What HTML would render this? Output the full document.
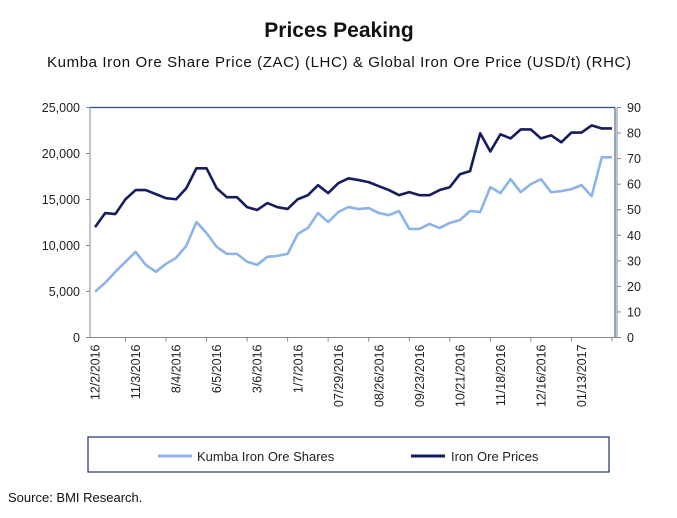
<!DOCTYPE html>
<html><head><meta charset="utf-8"><style>
body{margin:0;background:#fff;}
svg text{font-family:"Liberation Sans",Arial,sans-serif;}
</style></head><body>
<svg width="677" height="513" viewBox="0 0 677 513" id="chart">
<text x="339" y="37" text-anchor="middle" font-size="21" font-weight="bold" fill="#111">Prices Peaking</text>
<text x="339" y="67" text-anchor="middle" font-size="15" fill="#111" textLength="584" lengthAdjust="spacing">Kumba Iron Ore Share Price (ZAC) (LHC) &amp; Global Iron Ore Price (USD/t) (RHC)</text>
<g id="plot"></g>
<rect x="88" y="437" width="521" height="35" fill="none" stroke="#1f2d6b" stroke-width="1.2"/>
<line x1="158" y1="456" x2="192" y2="456" stroke="#8db4e8" stroke-width="3"/>
<text x="197" y="461" font-size="13" fill="#222">Kumba Iron Ore Shares</text>
<line x1="411" y1="456" x2="445" y2="456" stroke="#151d5e" stroke-width="3"/>
<text x="451" y="461" font-size="13" fill="#222">Iron Ore Prices</text>
<text x="8" y="502" font-size="13" fill="#111">Source: BMI Research.</text>
</svg>
<script>
const shares=[4980,5950,7140,8230,9310,7900,7140,8010,8660,9960,12550,11360,9850,9090,9090,8230,7900,8770,8870,9090,11260,11900,13530,12550,13640,14180,13960,14070,13530,13310,13740,11800,11800,12340,11900,12450,12770,13740,13640,16340,15690,17210,15800,16670,17210,15800,15910,16130,16560,15370,19590,19590];
const ironOre=[43.2,48.7,48.3,54.1,57.7,57.7,56.1,54.5,54.1,58.4,66.2,66.2,58.4,54.9,54.9,51.0,49.9,52.6,51.0,50.3,54.1,55.7,59.6,56.5,60.4,62.3,61.6,60.8,59.2,57.7,55.7,56.9,55.7,55.7,57.7,58.8,63.9,65.1,79.9,72.8,79.5,77.9,81.4,81.4,77.9,79.1,76.4,80.2,80.2,83.0,81.8,81.8];
const xLabels=["12/2/2016","11/3/2016","8/4/2016","6/5/2016","3/6/2016","1/7/2016","07/29/2016","08/26/2016","09/23/2016","10/21/2016","11/18/2016","12/16/2016","01/13/2017"];
const leftTicks=[0,5000,10000,15000,20000,25000];
const rightTicks=[0,10,20,30,40,50,60,70,80,90];
const NS="http://www.w3.org/2000/svg";
const L=90,R=617,T=107.5,B=337.5,n=shares.length,bw=(R-L)/n;
const xs=i=>L+bw*(i+0.5);
const yl=v=>B-(v/25000)*(B-T);
const yr=v=>B-(v/90)*(B-T);
const g=document.getElementById('plot');
function mk(t,a){const e=document.createElementNS(NS,t);for(const k in a)e.setAttribute(k,a[k]);g.appendChild(e);return e;}
let e=mk('line',{x1:L,y1:T,x2:R-2,y2:T,stroke:'#2a4a8a','stroke-width':1.2});


e=mk('line',{x1:R-2,y1:T,x2:R-2,y2:B,stroke:'#2a4a8a','stroke-width':1});


e=mk('line',{x1:L,y1:T,x2:L,y2:B,stroke:'#888','stroke-width':1});


e=mk('line',{x1:R,y1:T,x2:R,y2:B,stroke:'#888','stroke-width':1});


e=mk('line',{x1:L,y1:B,x2:R,y2:B,stroke:'#888','stroke-width':1});


leftTicks.forEach(v=>{
 const y=yl(v);
 mk('line',{x1:L-4,y1:y,x2:L,y2:y,stroke:'#888'});
 const t=mk('text',{x:L-10,y:y+4.5,'text-anchor':'end','font-size':12.5,fill:'#222'});
 t.textContent=v.toLocaleString('en-US');
 
 
});
rightTicks.forEach(v=>{
 const y=yr(v);
 mk('line',{x1:R,y1:y,x2:R+4,y2:y,stroke:'#888'});
 const t=mk('text',{x:R+10,y:y+4.5,'font-size':12.5,fill:'#222'});
 t.textContent=v;
 
 
});
for(let k=1;k<=xLabels.length;k++){const x=L+bw*4*k-bw*0.5;if(x<R)mk('line',{x1:x,y1:B,x2:x,y2:B+4,stroke:'#888'});}
xLabels.forEach((s,k)=>{
 const x=xs(k*4);
 const t=mk('text',{x:0,y:0,'text-anchor':'end','font-size':12.5,fill:'#222',transform:`translate(${x+4.5},${B+7}) rotate(-90)`});
 t.textContent=s;
 
 
});
e=mk('polyline',{points:shares.map((v,i)=>xs(i)+','+yl(v)).join(' '),fill:'none',stroke:'#8db4e8','stroke-width':2.6,'stroke-linejoin':'round'});


e=mk('polyline',{points:ironOre.map((v,i)=>xs(i)+','+yr(v)).join(' '),fill:'none',stroke:'#151d5e','stroke-width':2.6,'stroke-linejoin':'round'});


</script>
</body></html>
